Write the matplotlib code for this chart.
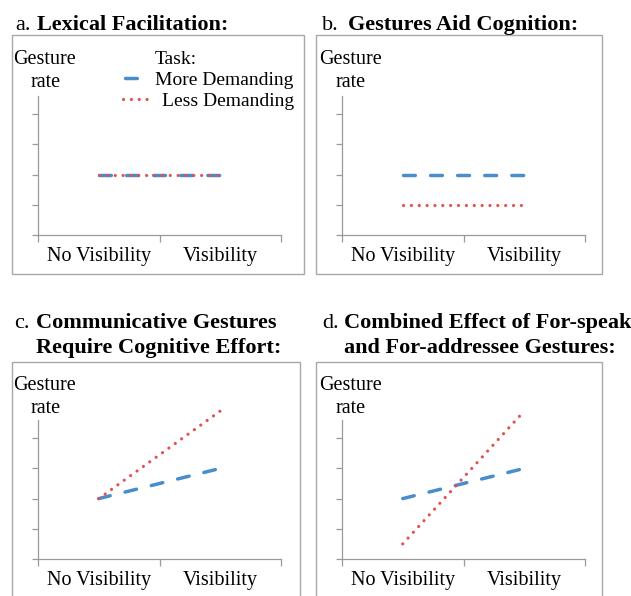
import matplotlib
matplotlib.use("Agg")
import matplotlib.pyplot as plt
from matplotlib.patches import Rectangle

# ---------------- data ----------------
categories = ["No Visibility", "Visibility"]
series_names = ["More Demanding", "Less Demanding"]
panel_letters = ["a.", "b.", "c.", "d."]
panel_titles = [
    ["Lexical Facilitation:"],
    ["Gestures Aid Cognition:"],
    ["Communicative Gestures", "Require Cognitive Effort:"],
    ["Combined Effect of For-speaker", "and For-addressee Gestures:"],
]
more_demanding = [[2, 2], [2, 2], [2, 3], [2, 3]]
less_demanding = [[2, 2], [1, 1], [2, 4.9], [0.5, 4.9]]
y_label_lines = ["Gesture", "rate"]
legend_title = "Task:"

# ---------------- styling ----------------
W, H = 631, 596
SERIF = ["Liberation Serif", "DejaVu Serif"]
BLUE = "#4a8dcc"
RED = "#e05252"
AXGRAY = "#9a9a9a"
BOXGRAY = "#a8a8a8"

fig = plt.figure(figsize=(W / 100, H / 100), dpi=100)


def fx(x):
    return x / W


def fy(y):
    return 1 - y / H


UNIT = 30.2
YMAX = 5.3
AXW = 243

# per-panel layout (pixels): box, axis origin, text anchors
layout = [
    dict(box=(12, 35, 304, 274), ax=(38, 235), lbl=45, lbly=64,
         let=15, tx=37, ty=[30]),
    dict(box=(316, 35, 602, 274), ax=(342, 235), lbl=350, lbly=64,
         let=322, tx=348, ty=[30]),
    dict(box=(12, 362, 300, 600), ax=(38, 559), lbl=45, lbly=390,
         let=14, tx=36, ty=[328, 353]),
    dict(box=(316, 362, 602, 600), ax=(342, 559), lbl=350, lbly=390,
         let=322, tx=344, ty=[328, 353]),
]

axes = []
lines = []
for i, L in enumerate(layout):
    x0, y0, x1, y1 = L["box"]
    fig.add_artist(Rectangle((fx(x0), fy(y1)), (x1 - x0) / W, (y1 - y0) / H,
                             transform=fig.transFigure, fill=False,
                             ec=BOXGRAY, lw=1.0))
    left, bottom = L["ax"]
    ax = fig.add_axes([fx(left), fy(bottom), AXW / W, YMAX * UNIT / H])
    ax.patch.set_alpha(0)
    xs = list(range(len(categories)))
    lm, = ax.plot(xs, more_demanding[i], color=BLUE, lw=2.5,
                  linestyle=(0, (3.4, 4.4)), dash_capstyle="round",
                  label=series_names[0])
    ll, = ax.plot(xs, less_demanding[i], color=RED, lw=2.3,
                  linestyle=(0, (0.01, 2.45)), dash_capstyle="round",
                  label=series_names[1])
    lines.append((lm, ll))
    ax.set_xlim(-0.5, 1.5)
    ax.set_ylim(0, YMAX)
    for s in ["top", "right"]:
        ax.spines[s].set_visible(False)
    for s in ["left", "bottom"]:
        ax.spines[s].set_color(AXGRAY)
        ax.spines[s].set_linewidth(0.9)
    ax.spines["left"].set_bounds(0, 4.6)
    ax.set_yticks([0, 1, 2, 3, 4])
    ax.set_yticklabels([])
    ax.set_xticks([-0.5, 0.5, 1.5])
    ax.set_xticklabels([])
    ax.set_xticks(xs, minor=True)
    ax.set_xticklabels(categories, minor=True, fontsize=14.5, family=SERIF)
    ax.tick_params(axis="y", length=4, width=0.9, color=AXGRAY)
    ax.tick_params(axis="x", which="major", length=5, width=0.9, color=AXGRAY)
    ax.tick_params(axis="x", which="minor", length=0, pad=9)

    # y label "Gesture rate"
    fig.text(fx(L["lbl"]), fy(L["lbly"]), y_label_lines[0], ha="center",
             va="baseline", fontsize=14.5, family=SERIF)
    fig.text(fx(L["lbl"] + 1), fy(L["lbly"] + 23), y_label_lines[1],
             ha="center", va="baseline", fontsize=14.5, family=SERIF)

    # titles
    fig.text(fx(L["let"]), fy(L["ty"][0]), panel_letters[i], ha="left",
             va="baseline", fontsize=16, family=SERIF)
    for line, ty in zip(panel_titles[i], L["ty"]):
        fig.text(fx(L["tx"]), fy(ty), line, ha="left", va="baseline",
                 fontsize=16, family=SERIF, fontweight="bold")
    axes.append(ax)

# legend in panel a
fig.text(fx(155), fy(64), legend_title, ha="left", va="baseline",
         fontsize=14, family=SERIF)
prop = {"family": SERIF, "size": 14}
leg1 = axes[0].legend([lines[0][0]], [series_names[0]], loc="center left",
                      bbox_to_anchor=(fx(125), fy(80)),
                      bbox_transform=fig.transFigure, frameon=False,
                      borderpad=0, borderaxespad=0, handlelength=0.93,
                      handletextpad=0.6, prop=prop)
axes[0].add_artist(leg1)
axes[0].legend([lines[0][1]], [series_names[1]], loc="center left",
               bbox_to_anchor=(fx(123), fy(101)),
               bbox_transform=fig.transFigure, frameon=False,
               borderpad=0, borderaxespad=0, handlelength=1.5,
               handletextpad=0.5, prop=prop)

fig.savefig("out.png", dpi=100)
